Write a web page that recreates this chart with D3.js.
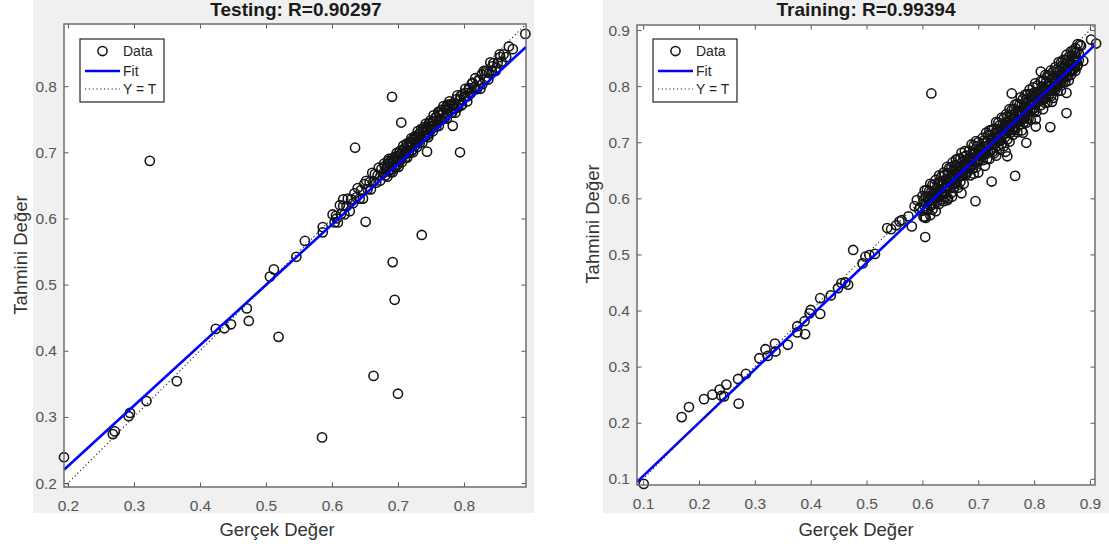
<!DOCTYPE html>
<html>
<head>
<meta charset="utf-8">
<script src="https://cdn.jsdelivr.net/npm/d3@7"></script>
<style>
body { margin: 0; background: #fff; }
svg { display: block; font-family: "Liberation Sans", Arial, Helvetica, sans-serif; }
</style>
</head>
<body>
<svg id="chart" width="1109" height="546"></svg>
<script>
// ---- values ----
var testTitle = "Testing: R=0.90297",
    trainTitle = "Training: R=0.99394";
var xLabel = "Gerçek Değer",
    yLabel = "Tahmini Değer";
var legendLabels = ["Data", "Fit", "Y = T"];

var testDomain = [0.194, 0.894],
    trainDomain = [0.089, 0.909];
var testTicks = [0.2, 0.3, 0.4, 0.5, 0.6, 0.7, 0.8],
    trainTicks = [0.1, 0.2, 0.3, 0.4, 0.5, 0.6, 0.7, 0.8, 0.9];

// fit line: [slope, intercept]
var testFit = [0.913, 0.043],
    trainFit = [0.950, 0.010];

// testing set: [target, output]
var testOutliers = [
  [0.194,0.239],[0.268,0.274],[0.271,0.278],[0.292,0.301],[0.294,0.306],[0.319,0.324],
  [0.365,0.354],[0.424,0.433],[0.437,0.434],[0.447,0.440],[0.471,0.464],[0.474,0.445],
  [0.519,0.421],[0.506,0.512],[0.512,0.523],[0.546,0.542],[0.559,0.566],[0.586,0.579],
  [0.586,0.587],[0.607,0.600],[0.617,0.629],[0.585,0.269],[0.663,0.362],[0.700,0.335],
  [0.695,0.477],[0.692,0.534],[0.736,0.575],[0.651,0.595],[0.324,0.687],[0.635,0.707],
  [0.686,0.690],[0.691,0.784],[0.705,0.745],[0.783,0.740],[0.794,0.700],[0.744,0.701],
  [0.864,0.844],[0.874,0.856],[0.893,0.879]
];
var testCluster = [
  [0.601,0.606],[0.604,0.594],[0.606,0.604],[0.609,0.594],[0.612,0.620],[0.614,0.607],
  [0.617,0.619],[0.619,0.606],[0.622,0.618],[0.624,0.630],[0.627,0.611],[0.629,0.629],
  [0.632,0.623],[0.634,0.638],[0.637,0.632],[0.639,0.646],[0.642,0.630],[0.644,0.643],
  [0.647,0.630],[0.649,0.652],[0.652,0.657],[0.654,0.644],[0.657,0.655],[0.659,0.644],
  [0.661,0.669],[0.663,0.656],[0.665,0.667],[0.667,0.654],[0.669,0.665],[0.671,0.677],
  [0.673,0.657],[0.675,0.675],[0.677,0.668],[0.679,0.683],
  [0.680,0.679],[0.681,0.665],[0.682,0.674],[0.684,0.663],[0.685,0.687],[0.686,0.673],
  [0.687,0.683],[0.689,0.670],[0.690,0.680],[0.691,0.691],[0.692,0.670],[0.693,0.687],
  [0.694,0.679],[0.695,0.693],[0.697,0.686],[0.698,0.699],[0.699,0.681],[0.700,0.693],
  [0.701,0.678],[0.702,0.699],[0.703,0.702],[0.704,0.688],[0.705,0.697],[0.706,0.685],
  [0.708,0.710],[0.709,0.696],[0.710,0.706],[0.711,0.692],[0.712,0.702],[0.713,0.713],
  [0.714,0.692],[0.715,0.709],[0.716,0.701],[0.718,0.716],[0.719,0.708],[0.720,0.721],
  [0.721,0.703],[0.722,0.715],[0.723,0.700],[0.724,0.721],[0.725,0.724],[0.726,0.710],
  [0.727,0.719],[0.729,0.708],[0.730,0.732],[0.731,0.718],[0.732,0.728],[0.733,0.714],
  [0.734,0.724],[0.735,0.735],[0.737,0.715],[0.738,0.732],[0.739,0.724],[0.740,0.738],
  [0.741,0.730],[0.742,0.743],[0.744,0.726],[0.745,0.738],[0.746,0.723],[0.747,0.744],
  [0.749,0.748],[0.750,0.734],[0.751,0.743],[0.753,0.732],[0.754,0.756],[0.755,0.742],
  [0.757,0.753],[0.758,0.739],[0.759,0.749],[0.761,0.761],[0.762,0.740],[0.763,0.757],
  [0.765,0.750],[0.766,0.764],[0.768,0.757],[0.769,0.770],[0.771,0.753],[0.772,0.765],
  [0.774,0.751],[0.775,0.772],[0.777,0.767],[0.778,0.777],
  [0.780,0.773],[0.782,0.760],[0.785,0.771],[0.787,0.760],[0.790,0.786],[0.792,0.773],
  [0.795,0.785],[0.797,0.772],[0.800,0.784],[0.802,0.796],[0.805,0.777],[0.807,0.795],
  [0.810,0.789],[0.812,0.804],[0.815,0.798],[0.817,0.812],[0.820,0.796],[0.822,0.809],
  [0.825,0.796],[0.827,0.818],[0.830,0.823],[0.832,0.810],[0.835,0.821],[0.837,0.810],
  [0.840,0.836],[0.842,0.823],[0.845,0.835],[0.848,0.823],[0.851,0.835],[0.854,0.848],
  [0.857,0.837],[0.860,0.848],[0.868,0.860]
];
var testCore = [
  [0.683,0.678],[0.686,0.672],[0.688,0.686],[0.691,0.674],[0.693,0.685],[0.696,0.677],
  [0.698,0.694],[0.701,0.689],[0.703,0.696],[0.706,0.691],[0.708,0.703],[0.711,0.697],
  [0.713,0.711],[0.716,0.699],[0.718,0.710],[0.721,0.702],[0.723,0.719],[0.726,0.714],
  [0.728,0.721],[0.731,0.716],[0.733,0.728],[0.736,0.722],[0.738,0.736],[0.741,0.724],
  [0.743,0.735],[0.746,0.727],[0.748,0.744],[0.751,0.739],[0.753,0.746],[0.756,0.741],
  [0.758,0.753],[0.761,0.747],[0.763,0.761],[0.766,0.749],[0.768,0.760],[0.771,0.752],
  [0.773,0.769],[0.776,0.764],[0.778,0.771],[0.781,0.760],[0.783,0.772],[0.786,0.766],
  [0.788,0.780],[0.791,0.768],[0.793,0.779],[0.796,0.771],[0.798,0.788],[0.801,0.783],
  [0.803,0.790],[0.806,0.785],[0.808,0.797],[0.811,0.791],[0.813,0.805],[0.818,0.795],
  [0.823,0.809],[0.828,0.803],[0.833,0.823],[0.838,0.820],[0.843,0.830],[0.849,0.828],
  [0.855,0.844]
];

// training set: [target, output]
var trainOutliers = [
  [0.101,0.091],[0.169,0.210],[0.182,0.228],[0.209,0.242],[0.224,0.250],[0.237,0.259],
  [0.240,0.248],[0.245,0.247],[0.249,0.268],[0.270,0.278],[0.271,0.234],[0.284,0.287],
  [0.308,0.315],[0.319,0.331],[0.323,0.319],[0.336,0.341],[0.337,0.327],[0.359,0.339],
  [0.376,0.372],[0.376,0.361],[0.390,0.358],[0.389,0.381],[0.398,0.395],[0.400,0.401],
  [0.417,0.394],[0.417,0.422],[0.436,0.427],[0.449,0.440],[0.455,0.449],[0.467,0.446],
  [0.462,0.450],[0.476,0.508],[0.493,0.484],[0.498,0.496],[0.505,0.499],[0.515,0.501],
  [0.537,0.547],[0.544,0.545],[0.553,0.552],[0.559,0.559],[0.563,0.561],[0.575,0.568],
  [0.581,0.550],[0.586,0.586],[0.590,0.597],[0.594,0.580],[0.605,0.531],[0.604,0.567],
  [0.596,0.584],[0.616,0.787],[0.645,0.597],[0.653,0.603],[0.670,0.609],[0.695,0.595],
  [0.724,0.630],[0.766,0.640],[0.749,0.683],[0.752,0.675],[0.786,0.699],[0.780,0.717],
  [0.803,0.728],[0.803,0.741],[0.829,0.727],[0.858,0.752],[0.858,0.788],[0.832,0.772],
  [0.760,0.787],[0.812,0.826],[0.873,0.859],[0.888,0.845],[0.902,0.883],[0.911,0.876]
];
var trainCluster = [
  [0.600,0.604],[0.600,0.578],[0.602,0.596],[0.602,0.567],[0.604,0.614],[0.604,0.586],
  [0.606,0.604],[0.606,0.565],[0.608,0.615],[0.608,0.581],[0.610,0.601],[0.610,0.579],
  [0.612,0.613],[0.612,0.596],[0.614,0.626],[0.614,0.570],[0.616,0.612],[0.616,0.591],
  [0.618,0.624],[0.618,0.580],[0.620,0.609],[0.620,0.591],[0.622,0.625],[0.622,0.603],
  [0.624,0.633],[0.624,0.577],[0.626,0.619],[0.626,0.593],[0.628,0.628],[0.628,0.604],
  [0.630,0.641],[0.630,0.590],[0.632,0.629],[0.632,0.615],[0.634,0.639],[0.634,0.598],
  [0.636,0.626],[0.636,0.608],[0.638,0.646],[0.638,0.595],[0.640,0.642],[0.640,0.619],
  [0.642,0.634],[0.642,0.603],[0.644,0.656],[0.644,0.618],[0.646,0.645],[0.646,0.600],
  [0.648,0.654],[0.648,0.629],[0.650,0.638],[0.650,0.618],[0.652,0.656],[0.652,0.610],
  [0.654,0.664],[0.654,0.631],[0.656,0.651],[0.656,0.619],[0.658,0.659],[0.658,0.628],
  [0.660,0.669],[0.660,0.626],[0.662,0.658],[0.662,0.642],[0.664,0.671],[0.664,0.619],
  [0.666,0.656],[0.666,0.638],[0.668,0.671],[0.668,0.629],[0.670,0.681],[0.670,0.653],
  [0.672,0.666],[0.672,0.641],[0.674,0.674],[0.674,0.626],[0.676,0.684],[0.676,0.652],
  [0.678,0.676],[0.678,0.642],[0.681,0.668],
  [0.684,0.685],[0.684,0.654],[0.686,0.673],[0.686,0.641],[0.688,0.696],[0.688,0.665],
  [0.690,0.683],[0.690,0.653],[0.692,0.694],[0.692,0.644],[0.694,0.683],[0.694,0.668],
  [0.696,0.702],[0.696,0.655],[0.698,0.693],[0.698,0.665],[0.700,0.700],[0.700,0.646],
  [0.702,0.687],[0.702,0.680],[0.704,0.689],[0.706,0.676],
  [0.708,0.708],[0.708,0.668],[0.710,0.703],[0.710,0.679],[0.712,0.699],[0.712,0.658],
  [0.714,0.717],[0.714,0.679],[0.716,0.700],[0.716,0.670],[0.718,0.713],[0.718,0.694],
  [0.720,0.721],[0.720,0.670],[0.722,0.712],[0.722,0.684],[0.724,0.722],[0.724,0.695],
  [0.726,0.708],[0.726,0.683],[0.728,0.724],[0.728,0.680],[0.730,0.716],[0.730,0.697],
  [0.732,0.736],[0.732,0.676],[0.734,0.723],[0.734,0.707],[0.736,0.735],[0.736,0.694],
  [0.738,0.730],[0.738,0.687],[0.740,0.723],[0.740,0.704],[0.742,0.744],[0.742,0.697],
  [0.744,0.732],[0.744,0.714],[0.746,0.743],[0.746,0.693],[0.748,0.729],[0.748,0.709],
  [0.750,0.750],[0.750,0.725],[0.752,0.746],[0.752,0.705],[0.754,0.739],[0.754,0.720],
  [0.756,0.759],[0.756,0.701],[0.758,0.749],[0.758,0.717],[0.760,0.758],[0.760,0.732],
  [0.762,0.742],[0.762,0.713],[0.764,0.759],[0.764,0.727],[0.766,0.767],[0.766,0.722],
  [0.768,0.755],[0.768,0.736],[0.770,0.769],[0.770,0.718],[0.772,0.756],[0.772,0.746],
  [0.774,0.767],[0.774,0.731],[0.776,0.780],[0.776,0.740],[0.778,0.767],[0.778,0.721],
  [0.780,0.777],[0.780,0.751],[0.782,0.764],[0.782,0.736],[0.784,0.785],[0.784,0.744],
  [0.786,0.776],[0.786,0.735],[0.788,0.786],[0.788,0.753],[0.790,0.773],[0.790,0.742],
  [0.792,0.794],[0.792,0.765],[0.794,0.786],[0.794,0.740],[0.796,0.782],[0.796,0.758],
  [0.798,0.798],[0.798,0.767],[0.800,0.788],[0.800,0.755],[0.802,0.805],[0.802,0.768],
  [0.804,0.789],[0.804,0.754],[0.806,0.801],[0.806,0.778],[0.809,0.790],[0.810,0.781],
  [0.812,0.809],[0.812,0.766],[0.814,0.799],[0.814,0.780],[0.816,0.809],[0.816,0.759],
  [0.818,0.795],[0.818,0.777],[0.820,0.820],[0.820,0.770],[0.822,0.809],[0.822,0.793],
  [0.824,0.819],[0.824,0.771],[0.826,0.806],[0.826,0.783],[0.828,0.818],[0.828,0.792],
  [0.830,0.828],[0.830,0.782],[0.832,0.814],[0.832,0.792],[0.834,0.826],[0.834,0.779],
  [0.836,0.814],[0.836,0.804],[0.838,0.834],[0.838,0.793],[0.840,0.829],[0.840,0.802],
  [0.842,0.826],[0.842,0.791],[0.844,0.843],[0.844,0.814],[0.846,0.827],[0.846,0.804],
  [0.848,0.842],[0.848,0.792],[0.850,0.836],[0.850,0.815],[0.852,0.847],[0.852,0.808],
  [0.854,0.833],[0.854,0.821],[0.856,0.847],[0.856,0.807],[0.858,0.856],[0.858,0.819],
  [0.860,0.843],[0.860,0.832],[0.862,0.852],[0.862,0.810],[0.864,0.840],[0.864,0.827],
  [0.866,0.862],[0.866,0.820],[0.868,0.855],[0.868,0.837],[0.870,0.863],[0.870,0.829],
  [0.872,0.853],[0.872,0.836],[0.874,0.868],[0.874,0.827],[0.876,0.861],[0.876,0.846],
  [0.878,0.875],[0.878,0.838],[0.880,0.858],[0.880,0.846],[0.882,0.874],[0.884,0.872]
];
var trainCore = [
  [0.611,0.596],[0.613,0.588],[0.615,0.604],[0.617,0.588],[0.619,0.600],[0.621,0.590],
  [0.623,0.609],[0.625,0.602],[0.627,0.610],[0.629,0.602],[0.631,0.615],[0.633,0.607],
  [0.635,0.623],[0.637,0.607],[0.639,0.619],[0.641,0.609],[0.643,0.628],[0.645,0.621],
  [0.647,0.629],[0.649,0.621],[0.651,0.634],[0.653,0.626],[0.655,0.642],[0.657,0.626],
  [0.659,0.638],[0.661,0.628],[0.663,0.647],[0.665,0.640],[0.667,0.648],[0.669,0.640],
  [0.671,0.653],[0.673,0.645],[0.675,0.661],[0.677,0.645],[0.679,0.657],[0.681,0.647],
  [0.683,0.666],[0.685,0.659],[0.687,0.667],[0.689,0.659],[0.691,0.672],[0.693,0.664],
  [0.695,0.680],[0.697,0.664],[0.699,0.676],[0.701,0.666],[0.703,0.685],[0.705,0.678],
  [0.707,0.686],[0.709,0.678],[0.711,0.691],[0.713,0.683],[0.715,0.699],[0.717,0.683],
  [0.719,0.695],[0.721,0.685],[0.723,0.704],[0.725,0.697],[0.727,0.705],[0.729,0.697],
  [0.731,0.710],[0.733,0.702],[0.735,0.718],[0.737,0.702],[0.739,0.714],[0.741,0.704],
  [0.743,0.723],[0.745,0.716],[0.747,0.724],[0.749,0.716],[0.751,0.729],[0.753,0.721],
  [0.755,0.737],[0.757,0.721],[0.759,0.733],[0.761,0.723],[0.763,0.742],[0.765,0.735],
  [0.767,0.743],[0.769,0.735],[0.771,0.748],[0.773,0.740],[0.775,0.756],[0.777,0.740],
  [0.779,0.752],[0.781,0.742],[0.783,0.761],[0.785,0.754],[0.787,0.762],[0.789,0.754],
  [0.791,0.767],[0.793,0.759],[0.795,0.775],[0.797,0.759],[0.799,0.771],[0.801,0.761],
  [0.803,0.780],[0.805,0.773],[0.807,0.781],[0.809,0.773],[0.811,0.786],[0.813,0.778],
  [0.815,0.794],[0.817,0.778],[0.819,0.790],[0.821,0.780],[0.823,0.799],[0.825,0.792],
  [0.827,0.800],[0.829,0.792],[0.831,0.805],[0.833,0.797],[0.835,0.813],[0.837,0.797],
  [0.839,0.809],[0.841,0.799],[0.843,0.818],[0.845,0.811],[0.847,0.819],[0.849,0.811],
  [0.851,0.824],[0.853,0.816],[0.855,0.832],[0.857,0.816],[0.859,0.828],[0.861,0.818],
  [0.863,0.837],[0.865,0.830],[0.867,0.838],[0.869,0.830],[0.871,0.843],[0.873,0.835],
  [0.875,0.851],[0.877,0.835]
];

var svg = d3.select("#chart");
var fmt = d3.format(".1f");

function drawPanel(p) {
    var g = svg.append("g");

    // figure background
    g.append("rect")
        .attr("x", p.bg[0]).attr("y", p.bg[1])
        .attr("width", p.bg[2]).attr("height", p.bg[3])
        .attr("fill", "#f0f0f0");

    var x = d3.scaleLinear().domain(p.domain).range([p.left, p.right]);
    var y = d3.scaleLinear().domain(p.domain).range([p.bottom, p.top]);

    g.append("rect")
        .attr("x", p.left).attr("y", p.top)
        .attr("width", p.right - p.left).attr("height", p.bottom - p.top)
        .attr("fill", "#fff");

    // ticks, pointing inward on all four sides
    var tl = 4.5;
    var ax = [
        {a: d3.axisBottom(x), t: "translate(0," + p.bottom + ")", lab: true},
        {a: d3.axisTop(x), t: "translate(0," + p.top + ")", lab: false},
        {a: d3.axisLeft(y), t: "translate(" + p.left + ",0)", lab: true},
        {a: d3.axisRight(y), t: "translate(" + p.right + ",0)", lab: false}
    ];
    ax.forEach(function(d, k) {
        d.a.tickValues(p.ticks)
            .tickSizeInner(-tl)
            .tickSizeOuter(0)
            .tickPadding(k === 0 ? 12.5 : 7)
            .tickFormat(d.lab ? fmt : "");
        var s = g.append("g").attr("transform", d.t).call(d.a);
        s.select(".domain").remove();
        s.selectAll("line").attr("stroke", "#555").attr("stroke-width", 1);
        s.selectAll("text")
            .attr("fill", "#555")
            .style("font-size", "15.5px")
            .style("font-family", "'Liberation Sans', Arial, sans-serif");
    });

    // data circles
    g.append("g").selectAll("circle")
        .data(p.points)
        .enter().append("circle")
        .attr("cx", function(d) { return x(d[0]); })
        .attr("cy", function(d) { return y(d[1]); })
        .attr("r", 4.6)
        .attr("fill", "none")
        .attr("stroke", "#141414")
        .attr("stroke-width", 1.55);

    // fit line
    var d0 = p.domain[0], d1 = p.domain[1];
    g.append("line")
        .attr("x1", x(d0)).attr("y1", y(p.fit[0] * d0 + p.fit[1]))
        .attr("x2", x(d1)).attr("y2", y(p.fit[0] * d1 + p.fit[1]))
        .attr("stroke", "#0000ff")
        .attr("stroke-width", 2.6);

    // Y = T
    g.append("line")
        .attr("x1", x(d0)).attr("y1", y(d0))
        .attr("x2", x(d1)).attr("y2", y(d1))
        .attr("stroke", "#222")
        .attr("stroke-width", 1.1)
        .attr("stroke-dasharray", "1.2,2.6");

    // axes box
    g.append("rect")
        .attr("x", p.left).attr("y", p.top)
        .attr("width", p.right - p.left).attr("height", p.bottom - p.top)
        .attr("fill", "none")
        .attr("stroke", "#6e6e6e")
        .attr("stroke-width", 1.5);

    // title
    g.append("text")
        .attr("x", p.titleX).attr("y", 16)
        .attr("text-anchor", "middle")
        .style("font-size", "19px")
        .style("font-weight", "bold")
        .attr("fill", "#1a1a1a")
        .text(p.title);

    // axis labels
    g.append("text")
        .attr("x", p.xLabX).attr("y", 536)
        .attr("text-anchor", "middle")
        .style("font-size", "18.5px")
        .attr("fill", "#333")
        .text(xLabel);

    g.append("text")
        .attr("transform", "translate(" + p.yLabX + "," + p.yLabY + ") rotate(-90)")
        .attr("text-anchor", "middle")
        .style("font-size", "18.5px")
        .attr("fill", "#333")
        .text(yLabel);

    // legend
    var lx = p.left + 16, ly = 39;
    var lg = g.append("g").attr("transform", "translate(" + lx + "," + ly + ")");
    lg.append("rect")
        .attr("width", 84).attr("height", 63)
        .attr("fill", "#fff")
        .attr("stroke", "#262626")
        .attr("stroke-width", 1.2);
    lg.append("circle")
        .attr("cx", 22.5).attr("cy", 12)
        .attr("r", 4.6)
        .attr("fill", "none")
        .attr("stroke", "#141414")
        .attr("stroke-width", 1.55);
    lg.append("line")
        .attr("x1", 5).attr("x2", 40).attr("y1", 32).attr("y2", 32)
        .attr("stroke", "#0000ff").attr("stroke-width", 2.6);
    lg.append("line")
        .attr("x1", 5).attr("x2", 40).attr("y1", 50).attr("y2", 50)
        .attr("stroke", "#222").attr("stroke-width", 1.1)
        .attr("stroke-dasharray", "1.2,2.6");
    lg.selectAll("text.leg")
        .data(legendLabels)
        .enter().append("text")
        .attr("class", "leg")
        .attr("x", 43)
        .attr("y", function(d, i) { return [12, 32, 50][i] + 5; })
        .style("font-size", "14px")
        .attr("fill", "#262626")
        .text(function(d) { return d; });
}

drawPanel({
    bg: [33, 0, 501, 513],
    left: 64, right: 526, top: 24, bottom: 487,
    domain: testDomain, ticks: testTicks, fit: testFit,
    points: testOutliers.concat(testCluster, testCore),
    title: testTitle, titleX: 296,
    xLabX: 277, yLabX: 27, yLabY: 255
});

drawPanel({
    bg: [603, 0, 506, 513],
    left: 637, right: 1095, top: 25, bottom: 485,
    domain: trainDomain, ticks: trainTicks, fit: trainFit,
    points: trainOutliers.concat(trainCluster, trainCore),
    title: trainTitle, titleX: 866,
    xLabX: 856, yLabX: 599, yLabY: 224
});
</script>
</body>
</html>
